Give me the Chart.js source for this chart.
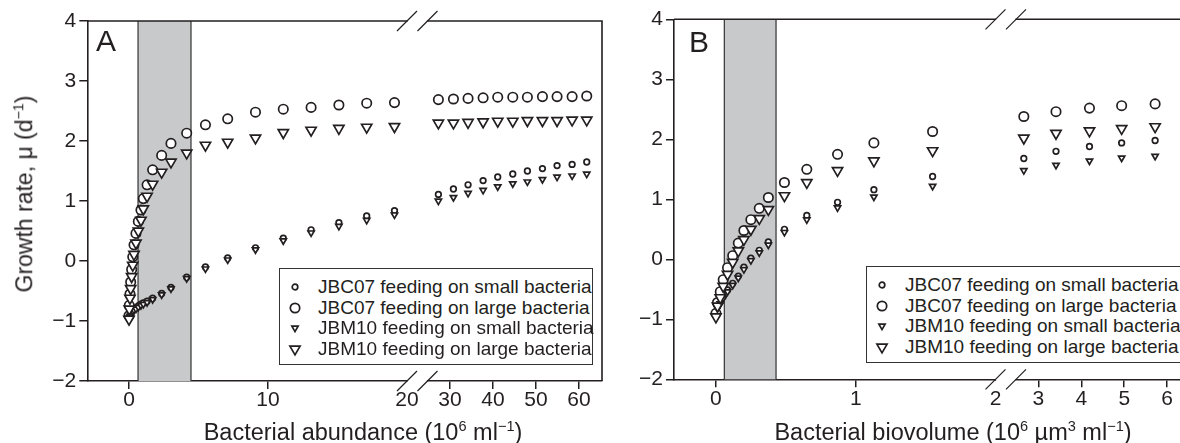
<!DOCTYPE html>
<html lang="en">
<head>
<meta charset="UTF-8">
<title>Growth rate vs bacterial abundance and biovolume</title>
<script src="https://cdn.jsdelivr.net/npm/chart.js"></script>
<style>
    body {
        margin: 0;
        background: #fff;
        overflow: hidden;
        font-family: 'Liberation Sans', Arial, sans-serif;
        color: #231f20;
    }
    #page { position: relative; width: 1180px; height: 443px; overflow: hidden; }
    canvas { position: absolute; top: 0; }
    #chartA { left: 0; }
    #chartB { left: 590px; }
    .letter { position: absolute; font-size: 30px; line-height: 30px; }
    .xtitle, .ytitle { position: absolute; font-size: 23.5px; line-height: 23.5px; white-space: nowrap; }
    .ytitle { font-size: 23px; }
    .xtitle { transform: translateX(-50%); }
    .ytitle { transform: translate(-50%, -50%) rotate(-90deg); }
    sup { font-size: 0.62em; line-height: 0; vertical-align: 0.62em; }
    .legend {
        position: absolute;
        background: #fff;
        border: 1.3px solid #333;
        font-size: 19px;
        white-space: nowrap;
        box-sizing: border-box;
    }
    .legend .row { position: relative; height: 20.6px; line-height: 20.6px; padding-left: 38px; }
    .legend svg { position: absolute; left: 6px; top: 1.3px; }
</style>
</head>
<body>
<div id="page">
    <canvas id="chartA" width="622" height="443"></canvas>
    <canvas id="chartB" width="625" height="443"></canvas>

    <div class="letter" style="left:96px; top:26px;">A</div>
    <div class="letter" style="left:689px; top:27px;">B</div>

    <div class="ytitle" style="left:25px; top:194px;">Growth rate, μ (d<sup>−1</sup>)</div>
    <div class="xtitle" style="left:363px; top:421px;">Bacterial abundance (10<sup>6</sup> ml<sup>−1</sup>)</div>
    <div class="xtitle" style="left:953px; top:421px;">Bacterial biovolume (10<sup>6</sup> µm<sup>3</sup> ml<sup>−1</sup>)</div>

    <div class="legend" id="legendA" style="left:279px; top:268px; width:314px; height:97px; padding-top:8px;"></div>
    <div class="legend" id="legendB" style="left:866px; top:266px; width:340px; height:97px; padding-top:8px;"></div>
</div>

<script>
    // ---- data ----
    const seriesNames = [
        'JBC07 feeding on small bacteria',
        'JBC07 feeding on large bacteria',
        'JBM10 feeding on small bacteria',
        'JBM10 feeding on large bacteria'
    ];

    // Panel A: bacterial abundance (10^6 ml^-1)
    const abundance = [0, 0.02, 0.07, 0.12, 0.19, 0.27, 0.36, 0.5, 0.67, 0.86, 1.03, 1.3, 1.7, 2.35, 3.02, 4.15,
        5.5, 7.1, 9.1, 11.1, 13.1, 15.1, 17.1, 19.1,
        27.3, 30.8, 34.2, 37.7, 41.1, 44.6, 48, 51.5, 54.9, 58.4, 61.8];
    const jbc07SmallA = [-0.96, -0.93, -0.9, -0.87, -0.84, -0.82, -0.8, -0.78, -0.75, -0.72, -0.7, -0.67, -0.62, -0.54, -0.44, -0.27,
        -0.1, 0.05, 0.22, 0.38, 0.52, 0.64, 0.75, 0.84,
        1.11, 1.2, 1.27, 1.34, 1.4, 1.45, 1.5, 1.54, 1.59, 1.61, 1.65];
    const jbc07LargeA = [-0.91, -0.74, -0.55, -0.35, -0.14, 0.07, 0.27, 0.46, 0.66, 0.85, 1.04, 1.27, 1.52, 1.76, 1.96, 2.13,
        2.27, 2.37, 2.48, 2.53, 2.56, 2.6, 2.63, 2.64,
        2.69, 2.7, 2.71, 2.72, 2.73, 2.73, 2.73, 2.74, 2.74, 2.74, 2.75];
    const jbm10SmallA = [-0.98, -0.95, -0.92, -0.89, -0.86, -0.84, -0.82, -0.8, -0.77, -0.74, -0.72, -0.69, -0.64, -0.56, -0.46, -0.29,
        -0.13, 0.02, 0.19, 0.34, 0.47, 0.58, 0.68, 0.77,
        1.0, 1.06, 1.13, 1.18, 1.24, 1.29, 1.32, 1.36, 1.4, 1.42, 1.45];
    const jbm10LargeA = [-0.97, -0.8, -0.62, -0.46, -0.26, -0.07, 0.11, 0.3, 0.5, 0.68, 0.87, 1.08, 1.28, 1.48, 1.65, 1.8,
        1.93, 1.98, 2.05, 2.14, 2.18, 2.21, 2.23, 2.24,
        2.3, 2.3, 2.31, 2.32, 2.33, 2.33, 2.34, 2.34, 2.34, 2.35, 2.35];

    // Panel B: bacterial biovolume (10^6 um^3 ml^-1)
    const biovolume = [0, 0.011, 0.031, 0.052, 0.083, 0.12, 0.16, 0.2, 0.25, 0.31, 0.375,
        0.49, 0.65, 0.87, 1.13, 1.55,
        2.66, 3.41, 4.19, 4.94, 5.72];
    const jbc07SmallB = [-0.93, -0.79, -0.71, -0.62, -0.51, -0.4, -0.28, -0.13, 0.02, 0.15, 0.29,
        0.5, 0.73, 0.95, 1.16, 1.38,
        1.68, 1.8, 1.88, 1.94, 1.98];
    const jbc07LargeB = [-0.9, -0.72, -0.54, -0.34, -0.14, 0.06, 0.27, 0.48, 0.66, 0.85, 1.03,
        1.28, 1.5, 1.75, 1.94, 2.13,
        2.38, 2.46, 2.52, 2.56, 2.59];
    const jbm10SmallB = [-0.95, -0.82, -0.74, -0.65, -0.54, -0.43, -0.31, -0.17, -0.02, 0.11, 0.24,
        0.45, 0.66, 0.86, 1.04, 1.22,
        1.48, 1.57, 1.64, 1.69, 1.72];
    const jbm10LargeB = [-0.96, -0.78, -0.64, -0.45, -0.25, -0.05, 0.14, 0.33, 0.5, 0.68, 0.83,
        1.06, 1.28, 1.48, 1.64, 1.81,
        2.02, 2.1, 2.14, 2.18, 2.21];

    // axes: each x axis is broken in two pieces
    const yTicks = [-2, -1, 0, 1, 2, 3, 4];
    const xTicksA1 = [0, 10, 20];
    const xTicksA2 = [30, 40, 50, 60];
    const xTicksB1 = [0, 1, 2];
    const xTicksB2 = [3, 4, 5, 6];
    const rangeA1 = [-3, 20], rangeA2 = [20, 65.35];
    const rangeB1 = [-0.3, 2], rangeB2 = [2, 6.3];
    const shadeA = [0.65, 4.46];
    const shadeB = [0.06, 0.43];

    const INK = '#231f20';
    const FONT = { family: "'Liberation Sans', Arial, sans-serif", size: 21, lineHeight: 1 };

    const markerStyles = [
        { pointStyle: 'circle', pointRadius: 2.8, rotation: 0 },
        { pointStyle: 'circle', pointRadius: 4.7, rotation: 0 },
        { pointStyle: 'triangle', pointRadius: 3.6, rotation: 180 },
        { pointStyle: 'triangle', pointRadius: 5.9, rotation: 180 }
    ];
    // triangles drawn over circles
    const drawOrder = [4, 3, 2, 1];

    // split one series at the break so each piece sits on its own x scale
    function buildDatasets(xs, seriesList, brk) {
        const sets = [];
        seriesList.forEach((ys, s) => {
            const lo = [], hi = [];
            xs.forEach((x, i) => (x <= brk ? lo : hi).push({ x: x, y: ys[i] }));
            [['x1', lo], ['x2', hi]].forEach(([axis, pts]) => {
                sets.push({
                    label: seriesNames[s],
                    data: pts,
                    xAxisID: axis,
                    yAxisID: 'y',
                    order: drawOrder[s],
                    borderColor: INK,
                    backgroundColor: '#fff',
                    borderWidth: 1.7,
                    pointBorderWidth: 1.7,
                    pointStyle: markerStyles[s].pointStyle,
                    pointRadius: markerStyles[s].pointRadius,
                    pointRotation: markerStyles[s].rotation,
                    showLine: false
                });
            });
        });
        return sets;
    }

    // shaded band, frame and the // break marks
    const decorPlugin = {
        id: 'decor',
        beforeDatasetsDraw(chart, args, opts) {
            const { ctx, chartArea: a } = chart;
            const s = chart.scales.x1;
            const l = s.getPixelForValue(opts.shade[0]);
            const r = s.getPixelForValue(opts.shade[1]);
            ctx.save();
            ctx.fillStyle = '#c8c9cb';
            ctx.fillRect(l, a.top, r - l, a.bottom - a.top);
            ctx.strokeStyle = '#333';
            ctx.lineWidth = 1.2;
            ctx.beginPath();
            ctx.moveTo(l, a.top); ctx.lineTo(l, a.bottom);
            ctx.moveTo(r, a.top); ctx.lineTo(r, a.bottom);
            ctx.stroke();
            ctx.restore();
        },
        afterDraw(chart, args, opts) {
            const { ctx, chartArea: a } = chart;
            ctx.save();
            ctx.strokeStyle = INK;
            ctx.lineWidth = 1.6;
            ctx.beginPath();
            ctx.moveTo(a.left, a.top);
            ctx.lineTo(a.right, a.top);
            if (opts.rightBorder) ctx.lineTo(a.right, a.bottom);
            ctx.stroke();

            const bx = chart.scales.x1.right;
            const gap = 20.5;
            [a.top, a.bottom].forEach(y => {
                ctx.fillStyle = '#fff';
                ctx.fillRect(bx + 0.6, y - 2.5, gap - 1.2, 5);
                ctx.lineWidth = 1.2;
                ctx.beginPath();
                ctx.moveTo(bx - 10, y + 10); ctx.lineTo(bx + 10, y - 10);
                ctx.moveTo(bx + gap - 10, y + 10); ctx.lineTo(bx + gap + 10, y - 10);
                ctx.stroke();
            });
            ctx.restore();
        }
    };

    function xScale(range, ticks, weight, xHeight, brk) {
        return {
            type: 'linear',
            position: 'bottom',
            stack: 'xs',
            stackWeight: weight,
            min: range[0],
            max: range[1],
            afterBuildTicks: s => { s.ticks = ticks.map(v => ({ value: v })); },
            afterFit: s => { s.height = xHeight; },
            ticks: { font: FONT, color: INK, padding: 1, maxRotation: 0, autoSkip: false },
            grid: {
                drawOnChartArea: false,
                tickLength: 8,
                lineWidth: 1.5,
                color: INK,
                tickColor: c => (c.tick && c.tick.value === brk ? 'rgba(0,0,0,0)' : INK)
            },
            border: { color: INK, width: 1.6 }
        };
    }

    function makeChart(id, cfg) {
        return new Chart(document.getElementById(id), {
            type: 'scatter',
            data: { datasets: buildDatasets(cfg.xs, cfg.series, cfg.r1[1]) },
            plugins: [decorPlugin],
            options: {
                responsive: false,
                animation: false,
                events: [],
                layout: { padding: { left: 0, top: cfg.top, right: cfg.padRight, bottom: 0 } },
                scales: {
                    x1: xScale(cfg.r1, cfg.t1, cfg.w1, cfg.xHeight, cfg.r1[1]),
                    x2: xScale(cfg.r2, cfg.t2, cfg.w2, cfg.xHeight, cfg.r1[1]),
                    y: {
                        type: 'linear',
                        position: 'left',
                        min: -2,
                        max: 4,
                        afterBuildTicks: s => { s.ticks = yTicks.map(v => ({ value: v })); },
                        afterFit: s => { s.width = cfg.yWidth; },
                        ticks: { font: FONT, color: INK, padding: 3, callback: v => String(v).replace('-', '\u2212') },
                        grid: { drawOnChartArea: false, tickLength: 8, lineWidth: 1.5, color: INK },
                        border: { color: INK, width: 1.6 }
                    }
                },
                plugins: {
                    legend: { display: false },
                    tooltip: { enabled: false },
                    decor: { shade: cfg.shade, rightBorder: cfg.rightBorder }
                }
            }
        });
    }

    makeChart('chartA', {
        xs: abundance,
        series: [jbc07SmallA, jbc07LargeA, jbm10SmallA, jbm10LargeA],
        r1: rangeA1, r2: rangeA2, t1: xTicksA1, t2: xTicksA2,
        w1: 319.7, w2: 195,
        top: 21, xHeight: 62, yWidth: 87.3, padRight: 20,
        shade: shadeA, rightBorder: true
    });

    makeChart('chartB', {
        xs: biovolume,
        series: [jbc07SmallB, jbc07LargeB, jbm10SmallB, jbm10LargeB],
        r1: rangeB1, r2: rangeB2, t1: xTicksB1, t2: xTicksB2,
        w1: 321.5, w2: 184.5,
        top: 19.3, xHeight: 63.7, yWidth: 84, padRight: 35,
        shade: shadeB, rightBorder: false
    });

    // legends: marker drawn in a small svg, label kept as text
    function markerSvg(s) {
        const st = markerStyles[s];
        let shape;
        if (st.pointStyle === 'circle') {
            shape = '<circle cx="9" cy="9" r="' + st.pointRadius + '" fill="#fff" stroke="' + INK + '" stroke-width="1.7"/>';
        } else {
            const r = st.pointRadius;
            const pts = [[9 - r * 0.866, 9 - r * 0.5], [9 + r * 0.866, 9 - r * 0.5], [9, 9 + r]];
            shape = '<polygon points="' + pts.map(p => p.join(',')).join(' ') + '" fill="#fff" stroke="' + INK + '" stroke-width="1.7"/>';
        }
        return '<svg width="18" height="18">' + shape + '</svg>';
    }

    ['legendA', 'legendB'].forEach(id => {
        document.getElementById(id).innerHTML = seriesNames
            .map((name, s) => '<div class="row">' + markerSvg(s) + name + '</div>')
            .join('');
    });
</script>
</body>
</html>
